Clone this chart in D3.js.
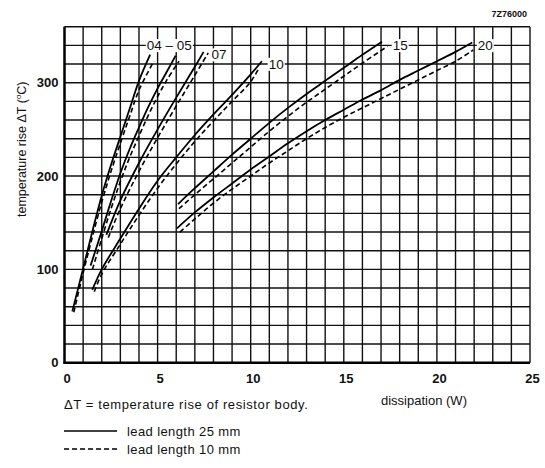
<!DOCTYPE html>
<html><head><meta charset="utf-8">
<script src="https://cdn.jsdelivr.net/npm/d3@7"></script>
<style>
body{margin:0;background:#fff;}
text{font-family:"Liberation Sans",Arial,Helvetica,sans-serif;fill:#111;}
</style></head>
<body><svg id="c" width="545" height="468"></svg>
<script>
// ---- data (dissipation W, temperature rise °C) ----
const xTicks = [0,5,10,15,20,25];
const yTicks = [0,100,200,300];
const c04_25 = [[0.42,55],[1,101],[1.5,141],[2,179],[2.5,212],[3,242],[3.5,272],[4,302],[4.6,330]];
const c04_10 = [[0.5,54],[1,96],[1.5,135],[2,172],[2.5,205],[3,235],[3.5,264],[4,292],[4.8,323]];
const c05_25 = [[1.4,104],[2,141],[2.5,173],[3,203],[3.5,229],[4,252],[4.5,274],[5,294],[5.5,312],[5.97,329]];
const c05_10 = [[1.5,100],[2,133],[2.5,165],[3,194],[3.5,220],[4,243],[4.5,265],[5,285],[5.5,303],[6.15,323]];
const c07_25 = [[2.25,137],[3,174],[4,214],[5,250],[6,284],[7,317],[7.47,333]];
const c07_10 = [[2.35,134],[3,165],[4,205],[5,241],[6,275],[7,308],[7.72,332]];
const c10_25 = [[1.49,78],[2,100],[3,133],[4,165],[5,195],[6,220],[7,244],[8,266],[9,287],[10,309],[10.6,323]];
const c10_10 = [[1.6,76],[2,95],[3,127],[4,158],[5,187],[6,213],[7,237],[8,259],[9,280],[10,301],[10.45,316]];
const c15_25 = [[6.1,170],[7,187],[8,205],[9,223],[10,240],[11,257],[12,273],[13,288],[14,302],[15,316],[16,330],[17.05,344]];
const c15_10 = [[6.15,165],[7,180],[8,197],[9,214],[10,231],[11,248],[12,264],[13,279],[14,293],[15,307],[16,321],[17.35,339]];
const c20_25 = [[6.04,144],[7,161],[8,177],[9,192],[10,207],[11,221],[12,235],[13,248],[14,260],[15,271],[16,282],[17,292],[18,303],[19,313],[20,323],[21,333],[21.9,343]];
const c20_10 = [[6.2,140],[7,154],[8,171],[9,186],[10,200],[11,214],[12,227],[13,240],[14,252],[15,263],[16,273],[17,283],[18,293],[19,303],[20,313],[21,323],[21.95,335]];
const curveLabels = [
  {t:"04 \u2013 05", x:5.63, y:340},
  {t:"07", x:8.3, y:330},
  {t:"10", x:11.37, y:320},
  {t:"15", x:18.03, y:340},
  {t:"20", x:22.6, y:340}
];

const svg = d3.select("#c");
const x = d3.scaleLinear().domain([0,25]).range([64.5,530]);
const y = d3.scaleLinear().domain([0,360]).range([362.7,26.7]);

// grid
const g = svg.append("g");
g.selectAll("line.v").data(d3.range(0,26,1)).join("line")
  .attr("x1",d=>x(d)).attr("x2",d=>x(d)).attr("y1",y(0)).attr("y2",y(360))
  .attr("stroke","#111").attr("stroke-width",1.4);
g.selectAll("line.h").data(d3.range(0,361,20)).join("line")
  .attr("y1",d=>y(d)).attr("y2",d=>y(d)).attr("x1",x(0)).attr("x2",x(25))
  .attr("stroke","#111").attr("stroke-width",1.4);
// frame emphasis
svg.append("line").attr("x1",x(0)).attr("x2",x(0)).attr("y1",y(0)+1).attr("y2",y(360)).attr("stroke","#000").attr("stroke-width",2.4);
svg.append("line").attr("x1",x(0)-1).attr("x2",x(25)).attr("y1",y(0)).attr("y2",y(0)).attr("stroke","#000").attr("stroke-width",2.4);

// axes
const xa = svg.append("g").attr("transform",`translate(0,${y(0)})`)
  .call(d3.axisBottom(x).tickValues(xTicks).tickSize(0).tickPadding(11));
const ya = svg.append("g").attr("transform",`translate(${x(0)},0)`)
  .call(d3.axisLeft(y).tickValues(yTicks).tickSize(0).tickPadding(6));
[xa,ya].forEach(a=>{a.select(".domain").remove();
  a.selectAll("text").attr("font-size",13).attr("font-weight","bold").attr("fill","#111")
   .attr("font-family","'Liberation Sans',Arial,sans-serif");});
xa.selectAll("text").attr("dx",2);

// curves
const line = d3.line().x(d=>x(d[0])).y(d=>y(d[1])).curve(d3.curveCatmullRom.alpha(0.5));
const solids = [c04_25,c05_25,c07_25,c10_25,c15_25,c20_25];
const dashes = [c04_10,c05_10,c07_10,c10_10,c15_10,c20_10];
svg.append("g").selectAll("path").data(dashes).join("path")
  .attr("d",line).attr("fill","none").attr("stroke","#000").attr("stroke-width",1.6).attr("stroke-dasharray","5,3");
svg.append("g").selectAll("path").data(solids).join("path")
  .attr("d",line).attr("fill","none").attr("stroke","#000").attr("stroke-width",1.8);

// curve labels with white background
const lg = svg.append("g");
curveLabels.forEach(l=>{
  const t = lg.append("text").attr("x",x(l.x)).attr("y",y(l.y)).attr("dy","0.35em")
    .attr("text-anchor","middle").attr("font-size",13.5).text(l.t);
  const b = t.node().getBBox();
  lg.insert("rect","text").attr("x",b.x-1).attr("y",b.y+1).attr("width",b.width+2).attr("height",b.height-2).attr("fill","#fff");
});

// titles
svg.append("text").attr("x",527).attr("y",17).attr("text-anchor","end").attr("font-size",9).attr("font-weight","bold").text("7Z76000");
const yl = svg.append("text").attr("transform","translate(26,217) rotate(-90)").attr("font-size",12.5);
yl.append("tspan").text("temperature rise \u0394T  (");
yl.append("tspan").attr("font-size",8).attr("dy",-5).text("o");
yl.append("tspan").attr("dy",5).text("C)");
svg.append("text").attr("x",381).attr("y",405).attr("font-size",13).text("dissipation (W)");
svg.append("text").attr("x",64).attr("y",409).attr("font-size",13).attr("letter-spacing",0.6)
  .text("\u0394T = temperature rise of resistor body.");

// legend
const legend = [{t:"lead length 25 mm",dash:null,y:431},{t:"lead length 10 mm",dash:"5,3",y:449}];
legend.forEach(l=>{
  svg.append("line").attr("x1",64).attr("x2",117).attr("y1",l.y).attr("y2",l.y)
    .attr("stroke","#000").attr("stroke-width",1.4).attr("stroke-dasharray",l.dash);
  svg.append("text").attr("x",127).attr("y",l.y+4.5).attr("font-size",13).attr("letter-spacing",0.4).text(l.t);
});
</script></body></html>
